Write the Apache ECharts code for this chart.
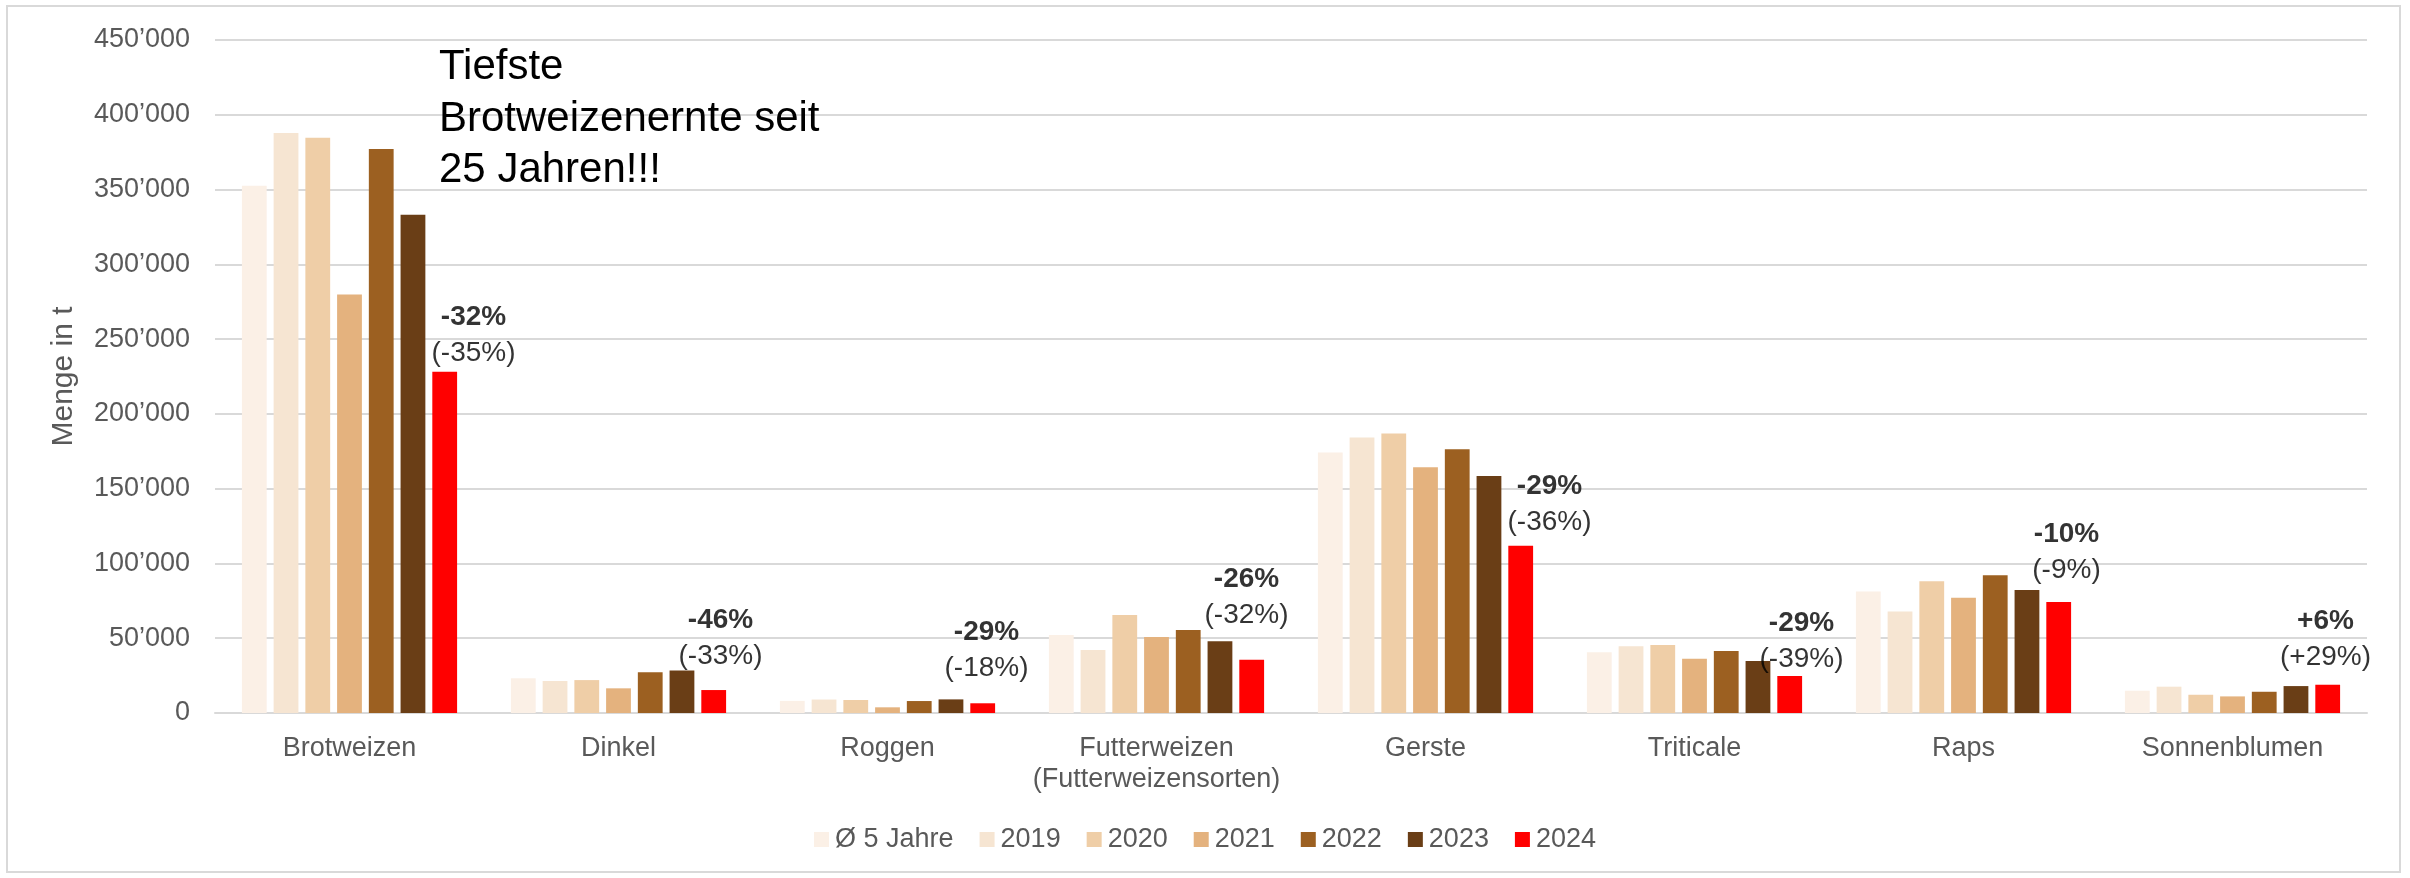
<!DOCTYPE html>
<html>
<head>
<meta charset="utf-8">
<script src="https://cdn.jsdelivr.net/npm/echarts@6/dist/echarts.min.js"></script>
<style>
html,body{margin:0;padding:0;background:#fff;}
#chart{width:2410px;height:878px;}
</style>
</head>
<body>
<div id="chart"></div>
<script>
// ---- data ----
const categories = ['Brotweizen', 'Dinkel', 'Roggen', 'Futterweizen\n(Futterweizensorten)', 'Gerste', 'Triticale', 'Raps', 'Sonnenblumen'];
const seriesNames = ['Ø 5 Jahre', '2019', '2020', '2021', '2022', '2023', '2024'];
const avg5  = [352500, 23200, 8100, 52100, 174200, 40700, 81200, 14900];
const y2019 = [387800, 21400, 9000, 42100, 184200, 44700, 67900, 17600];
const y2020 = [384700, 22000, 8700, 65500, 186900, 45400, 88100, 12200];
const y2021 = [279800, 16500, 3800, 50800, 164400, 36300, 77000, 11100];
const y2022 = [377100, 27200, 8000, 55500, 176400, 41400, 92100, 14200];
const y2023 = [333100, 28400, 9100, 47900, 158400, 34700, 82300, 18000];
const y2024 = [228200, 15350, 6500, 35600, 111800, 24700, 74300, 18900];
const changeVsAvg  = ['-32%', '-46%', '-29%', '-26%', '-29%', '-29%', '-10%', '+6%'];
const changeVsPrev = ['(-35%)', '(-33%)', '(-18%)', '(-32%)', '(-36%)', '(-39%)', '(-9%)', '(+29%)'];
const noteLevel    = [264800, 62000, 54300, 89500, 151900, 60100, 119700, 61200];
const yTicks = { min: 0, max: 450000, interval: 50000 };
const headline = 'Tiefste\nBrotweizenernte seit\n25 Jahren!!!';
const axisTitle = 'Menge in t';

// ---- styling / layout ----
const colors = ['#FBF0E6', '#F6E5D2', '#EFCEA7', '#E4B27E', '#9C6021', '#6A3E16', '#FF0000'];
const noteShiftX = [124, 102, 99, 90, 124, 107, 103, 93];
const FONT = "'Liberation Sans', Arial, sans-serif";
const GREY = '#595959';

const values = [avg5, y2019, y2020, y2021, y2022, y2023, y2024];

function fmt(v) {
  if (v === 0) return '0';
  const t = Math.floor(v / 1000), r = v % 1000;
  return t + '\u2019' + String(r).padStart(3, '0');
}

const barSeries = seriesNames.map((name, i) => ({
  name: name,
  type: 'bar',
  data: values[i],
  itemStyle: { color: colors[i] },
  barGap: '28%',
  barCategoryGap: '20%',
  silent: true
}));

const noteSeries = {
  name: 'notes',
  type: 'scatter',
  symbolSize: 0,
  silent: true,
  z: 10,
  data: categories.map((c, i) => ({
    value: [i, noteLevel[i]],
    label: {
      show: true,
      position: 'inside',
      offset: [noteShiftX[i], 18],
      formatter: '{b|' + changeVsAvg[i] + '}\n{r|' + changeVsPrev[i] + '}'
    }
  })),
  label: {
    show: true,
    rich: {
      b: { fontFamily: FONT, fontSize: 28, fontWeight: 'bold', color: '#000', lineHeight: 36, align: 'center' },
      r: { fontFamily: FONT, fontSize: 28, color: '#000', lineHeight: 36, align: 'center' }
    }
  }
};

const option = {
  animation: false,
  backgroundColor: '#fff',
  textStyle: { fontFamily: FONT },
  title: {
    text: headline,
    left: 439,
    top: 42,
    padding: 0,
    textStyle: { fontFamily: FONT, fontSize: 42, fontWeight: 'normal', color: '#000', lineHeight: 51.5 }
  },
  grid: { left: 215, right: 43, top: 40, bottom: 165, containLabel: false },
  legend: {
    data: seriesNames,
    left: 'center',
    top: 826,
    padding: 0,
    itemWidth: 15,
    itemHeight: 15,
    itemGap: 26,
    icon: 'rect',
    textStyle: { fontFamily: FONT, fontSize: 27, color: GREY, padding: [0, 0, 0, 1] }
  },
  xAxis: {
    type: 'category',
    data: categories,
    axisLine: { lineStyle: { color: '#D9D9D9', width: 2 } },
    axisTick: { show: false },
    axisLabel: { fontFamily: FONT, fontSize: 27, color: GREY, margin: 20, lineHeight: 31, interval: 0 }
  },
  yAxis: {
    type: 'value',
    min: yTicks.min,
    max: yTicks.max,
    interval: yTicks.interval,
    name: axisTitle,
    nameLocation: 'middle',
    nameGap: 136,
    nameTextStyle: { fontFamily: FONT, fontSize: 30, color: GREY },
    axisLine: { show: false },
    axisTick: { show: false },
    splitLine: { lineStyle: { color: '#D9D9D9', width: 2 } },
    axisLabel: { fontFamily: FONT, fontSize: 27, color: GREY, margin: 25, formatter: fmt }
  },
  graphic: [{
    type: 'rect',
    silent: true,
    shape: { x: 7, y: 6, width: 2393, height: 866 },
    style: { fill: 'none', stroke: '#D9D9D9', lineWidth: 2 }
  }],
  series: barSeries.concat([noteSeries])
};

const chart = echarts.init(document.getElementById('chart'), null, { renderer: 'canvas' });
chart.setOption(option);
</script>
</body>
</html>
